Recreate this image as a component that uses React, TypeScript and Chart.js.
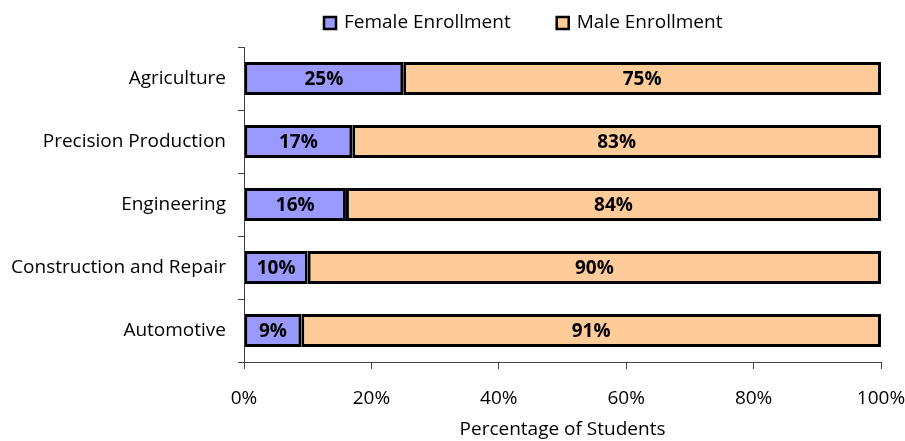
import React, { useEffect, useRef } from "react";
import { Chart, registerables } from "chart.js";

Chart.register(...registerables);

const categories = [
  "Agriculture",
  "Precision Production",
  "Engineering",
  "Construction and Repair",
  "Automotive",
];
const femaleValues = [25, 17, 16, 10, 9];
const maleValues = [75, 83, 84, 90, 91];
const xTicks = [0, 20, 40, 60, 80, 100];
const seriesNames = ["Female Enrollment", "Male Enrollment"];
const seriesColors = ["#9999FF", "#FFCC99"];
const xTitle = "Percentage of Students";

const FONT = "'Open Sans', Arial, sans-serif";
const FS = 19;

const dataLabelPlugin = {
  id: "dataLabels",
  afterDatasetsDraw(chart: any) {
    const ctx = chart.ctx;
    ctx.save();
    ctx.font = `bold ${FS}px ${FONT}`;
    ctx.fillStyle = "#000";
    ctx.textAlign = "center";
    ctx.textBaseline = "middle";
    chart.data.datasets.forEach((ds: any, di: number) => {
      const meta = chart.getDatasetMeta(di);
      meta.data.forEach((bar: any, i: number) => {
        const p = bar.getProps(["x", "y", "base"], true);
        const cx = (p.x + p.base) / 2;
        ctx.fillText(`${ds.data[i]}%`, cx, p.y + 1);
      });
    });
    ctx.restore();
  },
};

// Legend drawn above the plot: box + label per dataset
const legendPlugin = {
  id: "customLegend",
  afterDraw(chart: any) {
    const ctx = chart.ctx;
    ctx.save();
    ctx.font = `${FS}px ${FONT}`;
    ctx.textBaseline = "middle";
    ctx.textAlign = "left";
    const box = 12;
    const gapBoxText = 8;
    const gapItems = 46;
    const items = chart.data.datasets.map((ds: any) => ({
      label: ds.label,
      color: ds.backgroundColor,
      w: box + gapBoxText + ctx.measureText(ds.label).width,
    }));
    const total =
      items.reduce((s: number, it: any) => s + it.w, 0) + gapItems * (items.length - 1);
    const centerX = 523;
    const cy = 23;
    let x = Math.round(centerX - total / 2);
    items.forEach((it: any) => {
      ctx.fillStyle = it.color;
      ctx.fillRect(x, cy - box / 2, box, box);
      ctx.lineWidth = 2.5;
      ctx.strokeStyle = "#000";
      ctx.strokeRect(x, cy - box / 2, box, box);
      ctx.fillStyle = "#000";
      ctx.fillText(it.label, x + box + gapBoxText, cy);
      x += it.w + gapItems;
    });
    ctx.restore();
  },
};

export default function App() {
  const ref = useRef<HTMLCanvasElement>(null);
  useEffect(() => {
    document.body.style.margin = "0";
    const chart = new Chart(ref.current!, {
      type: "bar",
      data: {
        labels: categories,
        datasets: [
          {
            label: seriesNames[0],
            data: femaleValues,
            backgroundColor: seriesColors[0],
            borderColor: "#000",
            borderWidth: 3,
            borderSkipped: false,
            categoryPercentage: 1,
            barPercentage: 0.52,
          },
          {
            label: seriesNames[1],
            data: maleValues,
            backgroundColor: seriesColors[1],
            borderColor: "#000",
            borderWidth: 3,
            borderSkipped: false,
            categoryPercentage: 1,
            barPercentage: 0.52,
          },
        ],
      },
      options: {
        indexAxis: "y",
        responsive: false,
        animation: false,
        layout: { padding: { top: 47, right: 24, left: 0, bottom: 0 } },
        plugins: {
          legend: { display: false },
          tooltip: { enabled: false },
        },
        scales: {
          x: {
            stacked: true,
            min: 0,
            max: 100,
            afterBuildTicks(scale: any) {
              scale.ticks = xTicks.map((v) => ({ value: v }));
            },
            afterFit(scale: any) {
              scale.height = 79;
              scale.paddingRight = 0;
              scale.paddingLeft = 0;
            },
            ticks: {
              color: "#000",
              padding: 18,
              font: { family: FONT, size: FS },
              callback: (v: any) => `${v}%`,
            },
            grid: {
              drawOnChartArea: false,
              drawTicks: true,
              tickLength: 7,
              color: "#404040",
            },
            border: { display: true, color: "#404040", width: 1 },
            title: {
              display: true,
              text: xTitle,
              color: "#000",
              font: { family: FONT, size: FS },
              padding: { top: 0, bottom: 0 },
            },
          },
          y: {
            stacked: true,
            afterFit(scale: any) {
              scale.width = 244;
            },
            ticks: {
              color: "#000",
              padding: 12,
              font: { family: FONT, size: FS },
            },
            grid: {
              offset: true,
              drawOnChartArea: false,
              drawTicks: true,
              tickLength: 6,
              color: "#404040",
            },
            border: { display: true, color: "#404040", width: 1 },
          },
        },
      },
      plugins: [dataLabelPlugin, legendPlugin],
    } as any);
    return () => chart.destroy();
  }, []);
  return (
    <div style={{ width: 905, height: 441 }}>
      <canvas ref={ref} width={905} height={441} />
    </div>
  );
}
